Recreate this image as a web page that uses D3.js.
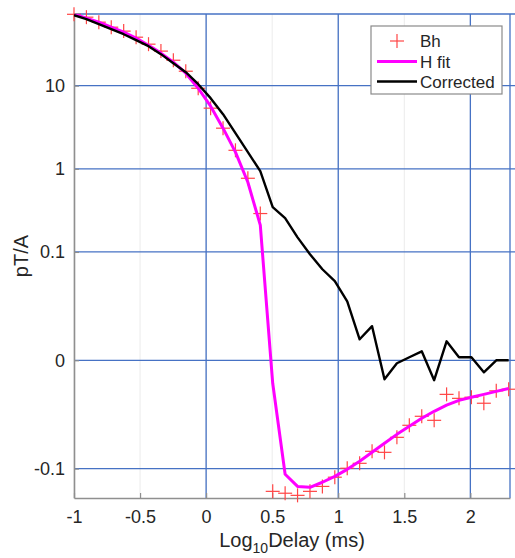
<!DOCTYPE html>
<html>
<head>
<meta charset="utf-8">
<script src="https://cdn.jsdelivr.net/npm/d3@7"></script>
<style>
  body { margin: 0; background: #fff; }
  text { font-family: "Liberation Sans", Arial, Helvetica, sans-serif; fill: #262626; }
</style>
</head>
<body>
<script>
// log10 of delay, sampled every 0.094 decade from -1
const logDelay = d3.range(36).map(k => -1 + 0.094 * k)

// measured Bh (pT/A)
const bh = [72.0, 66.5, 57.9, 50.4, 45.2, 38.2, 31.5, 26.0, 20.2, 14.9,
            9.3, 5.36, 3.08, 1.67, 0.77, 0.29, -0.188, -0.198, -0.210, -0.188,
            -0.164, -0.127, -0.099, -0.0863, -0.0617, -0.0635, -0.0416, -0.0294, -0.0225, -0.0254,
            -0.0109, -0.0126, -0.0121, -0.0149, -0.0095, -0.0089]

// H fit
const hfit = [72.3, 64.7, 57.9, 50.4, 43.9, 37.2, 30.6, 24.6, 19.1, 14.1,
              9.3, 5.66, 3.08, 1.59, 0.69, 0.21, -0.0068, -0.117, -0.164, -0.168,
              -0.146, -0.124, -0.102, -0.0816, -0.0635, -0.0493, -0.0382, -0.0303, -0.0239, -0.0193,
              -0.0159, -0.0135, -0.0121, -0.0109, -0.0097, -0.0086]

// Corrected
const corrected = [70.3, 63.0, 54.8, 47.7, 41.5, 35.2, 29.8, 23.9, 18.6, 14.5,
                   10.4, 7.07, 4.54, 2.68, 1.59, 0.937, 0.346, 0.255, 0.150, 0.0938,
                   0.0617, 0.0440, 0.0246, 0.00615, 0.0109, -0.0055, -0.00083, 0.00083, 0.0025, -0.0058,
                   0.0055, 0.00083, 0.00083, -0.0034, 0, 0]

const xTicks = [-1, -0.5, 0, 0.5, 1, 1.5, 2]
const xTickLabels = ["-1", "-0.5", "0", "0.5", "1", "1.5", "2"]
const yTicks = [10, 1, 0.1, 0, -0.1]
const yTickLabels = ["10", "1", "0.1", "0", "-0.1"]
const blueX = [0, 1, 2]

const xDomain = [-1, 2.3]
const yDomain = [-0.226, 72.6]
const C = 0.01   // asinh scale constant

const W = 515, H = 558
const mLeft = 74, mRight = 510, mTop = 14, mBottom = 498

const svg = d3.select("body").append("svg")
    .attr("width", W)
    .attr("height", H)

const x = d3.scaleLinear().domain(xDomain).range([mLeft, mRight])
const yT = d3.scaleLinear()
    .domain(yDomain.map(v => Math.asinh(v / C)))
    .range([mBottom, mTop])
const y = v => yT(Math.asinh(v / C))

const blue = "#4672c4"

// light grid at every tick
svg.append("g")
    .selectAll("line")
    .data(xTicks)
    .enter()
    .append("line")
    .attr("x1", d => x(d)).attr("x2", d => x(d))
    .attr("y1", mTop).attr("y2", mBottom)
    .attr("stroke", "#ececec")
    .attr("stroke-width", 1)

// blue reference lines
svg.append("g")
    .selectAll("line")
    .data(yTicks)
    .enter()
    .append("line")
    .attr("x1", mLeft).attr("x2", W)
    .attr("y1", d => y(d)).attr("y2", d => y(d))
    .attr("stroke", blue)
    .attr("stroke-width", 1.3)

svg.append("g")
    .selectAll("line")
    .data(blueX.concat([xDomain[1]]))
    .enter()
    .append("line")
    .attr("x1", d => x(d)).attr("x2", d => x(d))
    .attr("y1", mTop).attr("y2", mBottom)
    .attr("stroke", blue)
    .attr("stroke-width", 1.3)

svg.append("line")
    .attr("x1", mLeft).attr("x2", W)
    .attr("y1", mTop).attr("y2", mTop)
    .attr("stroke", blue)
    .attr("stroke-width", 1.3)

// axes
const axisColor = "#8f8f8f"
const xAxis = d3.axisBottom(x)
    .tickValues(xTicks)
    .tickFormat((d, i) => xTickLabels[i])
    .tickSizeInner(-5)
    .tickSizeOuter(0)
    .tickPadding(12)

const gx = svg.append("g")
    .attr("transform", `translate(0,${mBottom})`)
    .call(xAxis)
gx.select(".domain").attr("stroke", axisColor).attr("stroke-width", 1.6)
gx.selectAll(".tick line").attr("stroke", axisColor).attr("stroke-width", 1.2)
gx.selectAll(".tick text")
    .attr("font-size", 18)
    .attr("font-family", "Liberation Sans, Arial, sans-serif")
    .attr("fill", "#262626")

const yAxis = d3.axisLeft(yT)
    .tickValues(yTicks.map(v => Math.asinh(v / C)))
    .tickFormat((d, i) => yTickLabels[i])
    .tickSizeInner(-5)
    .tickSizeOuter(0)
    .tickPadding(9)

const gy = svg.append("g")
    .attr("transform", `translate(${mLeft},0)`)
    .call(yAxis)
gy.select(".domain").attr("stroke", axisColor).attr("stroke-width", 1.6)
gy.selectAll(".tick line").attr("stroke", axisColor).attr("stroke-width", 1.2)
gy.selectAll(".tick text")
    .attr("font-size", 18)
    .attr("font-family", "Liberation Sans, Arial, sans-serif")
    .attr("fill", "#262626")

// clip for lines
svg.append("clipPath").attr("id", "plotclip")
    .append("rect")
    .attr("x", mLeft).attr("y", mTop)
    .attr("width", mRight - mLeft).attr("height", mBottom - mTop)

const line = d3.line()
    .x(d => x(d[0]))
    .y(d => y(d[1]))

// Bh markers
const plus = 7
const markers = svg.append("g")
    .selectAll("g")
    .data(d3.zip(logDelay, bh))
    .enter()
    .append("g")
    .attr("transform", d => `translate(${x(d[0])},${y(d[1])})`)
markers.append("line")
    .attr("x1", -plus).attr("x2", plus).attr("y1", 0).attr("y2", 0)
    .attr("stroke", "#ff4545").attr("stroke-width", 1.2)
markers.append("line")
    .attr("x1", 0).attr("x2", 0).attr("y1", -plus).attr("y2", plus)
    .attr("stroke", "#ff4545").attr("stroke-width", 1.2)

// H fit
svg.append("path")
    .datum(d3.zip(logDelay, hfit))
    .attr("clip-path", "url(#plotclip)")
    .attr("d", line)
    .attr("fill", "none")
    .attr("stroke", "#ff00ff")
    .attr("stroke-width", 3)
    .attr("stroke-linejoin", "round")

// Corrected
svg.append("path")
    .datum(d3.zip(logDelay, corrected))
    .attr("clip-path", "url(#plotclip)")
    .attr("d", line)
    .attr("fill", "none")
    .attr("stroke", "#000")
    .attr("stroke-width", 2.4)
    .attr("stroke-linejoin", "round")

// legend
const lg = svg.append("g")
lg.append("rect")
    .attr("x", 371).attr("y", 26)
    .attr("width", 131).attr("height", 68)
    .attr("fill", "#fff")
    .attr("stroke", "#8a8a8a")
    .attr("stroke-width", 1.2)

const legendItems = ["Bh", "H fit", "Corrected"]
const legendY = [41, 61.5, 81.5]

lg.append("line")
    .attr("x1", 397 - plus).attr("x2", 397 + plus)
    .attr("y1", legendY[0]).attr("y2", legendY[0])
    .attr("stroke", "#ff4545").attr("stroke-width", 1.2)
lg.append("line")
    .attr("x1", 397).attr("x2", 397)
    .attr("y1", legendY[0] - plus).attr("y2", legendY[0] + plus)
    .attr("stroke", "#ff4545").attr("stroke-width", 1.2)
lg.append("line")
    .attr("x1", 377).attr("x2", 417)
    .attr("y1", legendY[1]).attr("y2", legendY[1])
    .attr("stroke", "#ff00ff").attr("stroke-width", 3)
lg.append("line")
    .attr("x1", 377).attr("x2", 417)
    .attr("y1", legendY[2]).attr("y2", legendY[2])
    .attr("stroke", "#000").attr("stroke-width", 2.4)

lg.selectAll("text")
    .data(legendItems)
    .enter()
    .append("text")
    .attr("x", 420)
    .attr("y", (d, i) => legendY[i])
    .attr("dy", "0.36em")
    .attr("font-size", 17)
    .text(d => d)

// axis labels
const xl = svg.append("text")
    .attr("x", (mLeft + mRight) / 2)
    .attr("y", 547)
    .attr("text-anchor", "middle")
    .attr("font-size", 20)
xl.append("tspan").text("Log")
xl.append("tspan").attr("font-size", 14).attr("dy", 6).text("10")
xl.append("tspan").attr("dy", -6).text("Delay (ms)")

svg.append("text")
    .attr("transform", `translate(28,${(mTop + mBottom) / 2}) rotate(-90)`)
    .attr("text-anchor", "middle")
    .attr("font-size", 20)
    .text("pT/A")
</script>
</body>
</html>
